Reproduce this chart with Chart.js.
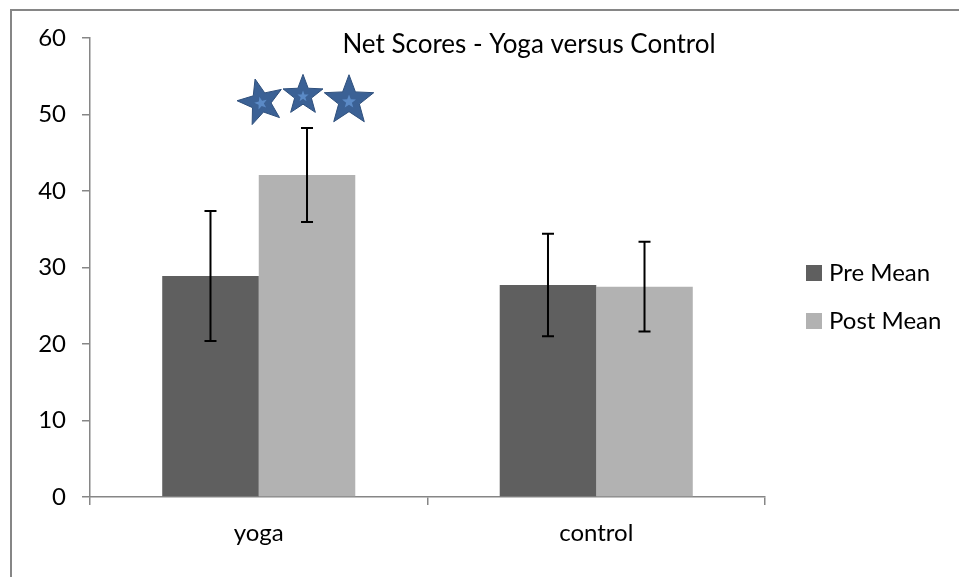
<!DOCTYPE html>
<html>
<head>
<meta charset="utf-8">
<script src="https://cdn.jsdelivr.net/npm/chart.js@4/dist/chart.umd.min.js"></script>
<style>
  html, body { margin: 0; padding: 0; background: #fff; }
  #wrap { position: relative; width: 959px; height: 577px; }
  #frame { position: absolute; left: 10px; top: 9px; right: -2px; bottom: -2px; border-left: 2px solid #868686; border-top: 2px solid #868686; pointer-events: none; }
</style>
</head>
<body>
<div id="wrap">
  <canvas id="chart" width="959" height="577"></canvas>
  <div id="frame"></div>
</div>
<script>
// Data
const categories = ["yoga", "control"];
const preMean = [28.9, 27.7];
const postMean = [42.1, 27.5];
const preError = [8.5, 6.7];
const postError = [6.15, 5.85];
const yTicks = [0, 10, 20, 30, 40, 50, 60];
// significance stars above the yoga post bar (y in score units)
const starValues = [51.6, 52.5, 51.8];

const FONT = "Lato, 'Open Sans', sans-serif";

function drawStar(ctx, cx, cy, r, rot, fill, stroke) {
  ctx.beginPath();
  for (let i = 0; i < 10; i++) {
    const rad = i % 2 === 0 ? r : r * 0.42;
    const a = -Math.PI / 2 + rot + i * Math.PI / 5;
    const x = cx + rad * Math.cos(a);
    const y = cy + rad * Math.sin(a);
    if (i === 0) ctx.moveTo(x, y); else ctx.lineTo(x, y);
  }
  ctx.closePath();
  ctx.fillStyle = fill;
  ctx.fill();
  if (stroke) {
    ctx.strokeStyle = stroke;
    ctx.lineWidth = 1;
    ctx.stroke();
  }
}

// error bars, title, stars and legend
const extras = {
  id: "extras",
  afterDatasetsDraw(chart) {
    const ctx = chart.ctx;
    const y = chart.scales.y;
    const errs = [preError, postError];
    ctx.save();
    chart.data.datasets.forEach((ds, di) => {
      const meta = chart.getDatasetMeta(di);
      meta.data.forEach((bar, i) => {
        const v = ds.data[i];
        const top = y.getPixelForValue(v + errs[di][i]);
        const bot = y.getPixelForValue(v - errs[di][i]);
        ctx.strokeStyle = "#000";
        ctx.lineWidth = 2;
        ctx.beginPath();
        ctx.moveTo(bar.x, top); ctx.lineTo(bar.x, bot);
        ctx.moveTo(bar.x - 6, top); ctx.lineTo(bar.x + 6, top);
        ctx.moveTo(bar.x - 6, bot); ctx.lineTo(bar.x + 6, bot);
        ctx.stroke();
      });
    });

    // stars
    const postBar = chart.getDatasetMeta(1).data[0];
    const offs = [-46, -4, 42];
    const radii = [24, 21, 26];
    const rots = [-0.25, 0, 0];
    starValues.forEach((sv, i) => {
      const cx = postBar.x + offs[i];
      const cy = y.getPixelForValue(sv);
      drawStar(ctx, cx, cy, radii[i], rots[i], "#3b6195", "#2e4f7c");
      drawStar(ctx, cx, cy + 1, radii[i] * 0.28, rots[i], "#5b8ac6", null);
    });

    // title
    ctx.fillStyle = "#000";
    ctx.font = "26px " + FONT;
    ctx.textAlign = "center";
    ctx.textBaseline = "middle";
    ctx.fillText("Net Scores - Yoga versus Control", 529, 45);

    // legend
    ctx.font = "24px " + FONT;
    ctx.textAlign = "left";
    chart.data.datasets.forEach((ds, di) => {
      const ly = 273 + di * 48;
      ctx.fillStyle = ds.backgroundColor;
      ctx.fillRect(806, ly - 8, 16, 16);
      ctx.fillStyle = "#000";
      ctx.fillText(ds.label, 829, ly);
    });
    ctx.restore();
  }
};

new Chart(document.getElementById("chart"), {
  type: "bar",
  data: {
    labels: categories,
    datasets: [
      { label: "Pre Mean", data: preMean, backgroundColor: "#5f5f5f" },
      { label: "Post Mean", data: postMean, backgroundColor: "#b2b2b2" }
    ]
  },
  options: {
    responsive: false,
    animation: false,
    devicePixelRatio: 1,
    layout: { padding: { left: 10, right: 194, top: 38, bottom: 0 } },
    datasets: { bar: { categoryPercentage: 0.572, barPercentage: 1.0 } },
    plugins: {
      legend: { display: false },
      tooltip: { enabled: false },
      title: { display: false }
    },
    scales: {
      x: {
        offset: true,
        grid: { offset: true, drawOnChartArea: false, drawTicks: true, tickLength: 8, color: "#868686", lineWidth: 1.5 },
        border: { color: "#868686", width: 1.5 },
        ticks: { color: "#000", font: { family: FONT, size: 24 }, padding: 14 },
        afterFit(s) { s.height = 80; }
      },
      y: {
        min: 0,
        max: 60,
        afterBuildTicks(s) { s.ticks = yTicks.map(v => ({ value: v })); },
        grid: { drawOnChartArea: false, drawTicks: true, tickLength: 8, color: "#868686", lineWidth: 1.5 },
        border: { color: "#868686", width: 1.5 },
        ticks: { color: "#000", font: { family: FONT, size: 24 }, padding: 16 },
        afterFit(s) { s.width = 80; }
      }
    }
  },
  plugins: [extras]
});
</script>
</body>
</html>
